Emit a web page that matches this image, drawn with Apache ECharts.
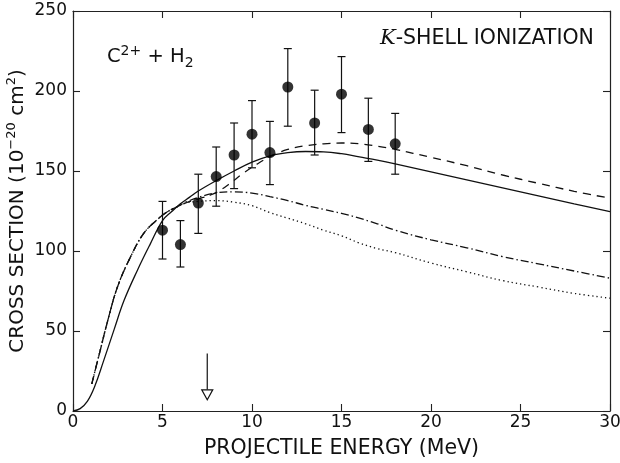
<!DOCTYPE html>
<html><head><meta charset="utf-8">
<script src="https://cdn.jsdelivr.net/npm/echarts@6/dist/echarts.min.js"></script>
<style>html,body{margin:0;padding:0;background:#fff}#c{width:620px;height:463px}</style>
</head><body><div id="c"></div>
<script>
// Measured data points (projectile energy in MeV, cross section in 1e-20 cm^2)
const energy       = [5, 6, 7, 8, 9, 10, 11, 12, 13.5, 15, 16.5, 18];
const crossSection = [113, 104, 130, 146.5, 160, 173, 161.5, 202.5, 180, 198, 176, 167];
const errLow       = [95, 90, 111, 128, 139, 152, 141.5, 178, 160, 174, 156, 148];
const errHigh      = [131, 119, 148, 165, 180, 194, 181, 226.5, 200.5, 221.5, 195.5, 186];

// Theory curves [energy, cross section]
const solidCurve = [[0,0],[0.4,1.5],[0.8,6],[1.2,15],[1.7,31],[2.3,51],[2.85,69],[3.6,88],[4.3,104],[5,119],[5.5,124.5],[6,129.5],[6.5,133.5],[7,137.5],[8,144],[9,150],[10,155.5],[11,159.5],[12,161.5],[13,162.2],[14,162],[15,160.8],[16,158.8],[17,156.8],[18,154.5],[20,149.5],[22,144.5],[24,139.5],[26,134.5],[28,129.5],[30,124.6]];
const dashedCurve = [[1.05,17],[1.5,37],[2,59],[2.5,78],[3.2,96],[3.95,111],[4.7,119.5],[5.2,124],[5.8,127.5],[6.3,130],[7,132.5],[7.8,135.5],[8.3,138.5],[8.8,142.5],[9.5,148.5],[10.1,153],[11,159],[12,163.5],[13,165.8],[14,167],[15,167.5],[16,167],[17,165.5],[18,163.5],[20,158.5],[22,153.3],[24,147.5],[26,142.3],[28,137.3],[30,133]];
const dashDotCurve = [[1.05,17],[1.5,37],[2,59],[2.5,78],[3.2,96],[3.95,111],[4.7,119.5],[5.2,124],[5.8,127.5],[6.3,130.5],[7,133.5],[8,136.3],[9,137],[10,136.2],[11,134],[12,131.5],[13,128.5],[14,126],[15,123.5],[16,120.5],[17,117],[18,113],[20,107],[22,102],[24,96.5],[26,92],[28,87.5],[30,83]];
const dottedCurve = [[1.05,17],[1.5,37],[2,59],[2.5,78],[3.2,96],[3.95,111],[4.7,119.5],[5.2,124],[5.8,127.5],[6.3,130],[7,131],[8,131.5],[9,130.5],[10,128.3],[11,124],[12,120.5],[13,117],[14,113],[15,109.5],[16,105],[17,101.5],[18,99],[20,92.5],[22,87],[24,81.5],[26,77.5],[28,73.5],[30,70.5]];

// Threshold arrow (energy, from value, to value)
const arrowEnergy = [7.5];
const arrowFrom = [36];
const arrowTo = [7];

// Axis ticks
const xTicks = {min: 0, max: 30, interval: 5};
const yTicks = {min: 0, max: 250, interval: 50};

const FONT = 'DejaVu Sans';
const INK = '#111';

const chart = echarts.init(document.getElementById('c'), null, {renderer: 'canvas'});

const baseAxis = {
  axisLine: {show: true, onZero: false, lineStyle: {color: '#222', width: 1.2}},
  axisTick: {show: true, inside: true, length: 7, lineStyle: {color: '#222', width: 1.1}},
  splitLine: {show: false},
};

const errData = energy.map((e, i) => [e, errLow[i], errHigh[i]]);
const ptData = energy.map((e, i) => [e, crossSection[i]]);
const arrowData = arrowEnergy.map((e, i) => [e, arrowFrom[i], arrowTo[i]]);

const lineSeries = (data, type) => ({
  type: 'line', data: data, symbol: 'none', showSymbol: false, smooth: 0.4,
  sampling: null,
  lineStyle: {color: INK, width: 1.3, type: type, cap: 'butt'}, z: 2, silent: true
});

chart.setOption({
  animation: false,
  backgroundColor: '#fff',
  grid: {left: 73, right: 10, top: 11, bottom: 52, containLabel: false, outerBoundsMode: 'none'},
  xAxis: [
    Object.assign({}, baseAxis, {
      type: 'value', position: 'bottom', min: xTicks.min, max: xTicks.max, interval: xTicks.interval,
      axisLabel: {show: true, margin: 3, fontFamily: FONT, fontSize: 17, color: INK},
      name: 'PROJECTILE ENERGY (MeV)', nameLocation: 'middle', nameGap: 27, nameMoveOverlap: false,
      nameTextStyle: {fontFamily: FONT, fontSize: 20.5, color: INK}
    }),
    Object.assign({}, baseAxis, {
      type: 'value', position: 'top', min: xTicks.min, max: xTicks.max, interval: xTicks.interval,
      axisLabel: {show: false}
    })
  ],
  yAxis: [
    Object.assign({}, baseAxis, {
      type: 'value', position: 'left', min: yTicks.min, max: yTicks.max, interval: yTicks.interval,
      axisLabel: {show: true, margin: 6, fontFamily: FONT, fontSize: 17, color: INK},
      name: '{n|CROSS SECTION (10}{sup|\u221220}{n| cm}{sup|2}{n|)}',
      nameLocation: 'middle', nameGap: 42, nameRotate: 90, nameMoveOverlap: false,
      nameTextStyle: {
        fontFamily: FONT, fontSize: 20, color: INK,
        rich: {
          n: {fontFamily: FONT, fontSize: 20, color: INK, lineHeight: 26, verticalAlign: 'middle'},
          sup: {fontFamily: FONT, fontSize: 13, color: INK, lineHeight: 15, verticalAlign: 'top'}
        }
      }
    }),
    Object.assign({}, baseAxis, {
      type: 'value', position: 'right', min: yTicks.min, max: yTicks.max, interval: yTicks.interval,
      axisLabel: {show: false}
    })
  ],
  graphic: [
    {type: 'text', left: 107, top: 44, silent: true,
     style: {text: '{n|C}{sup|2+}{n| + H}{sub|2}', fill: INK,
       rich: {
         n: {fontFamily: FONT, fontSize: 19.5, fill: INK, lineHeight: 26, verticalAlign: 'middle'},
         sup: {fontFamily: FONT, fontSize: 14, fill: INK, lineHeight: 14, verticalAlign: 'top'},
         sub: {fontFamily: FONT, fontSize: 14, fill: INK, lineHeight: 14, verticalAlign: 'bottom'}
       }}},
    {type: 'text', left: 380, top: 28, silent: true,
     style: {text: '{k|K}{n|-SHELL IONIZATION}', fill: INK,
       rich: {
         k: {fontFamily: 'DejaVu Serif', fontStyle: 'italic', fontSize: 21, fill: INK, lineHeight: 26},
         n: {fontFamily: FONT, fontSize: 20.5, fill: INK, lineHeight: 26}
       }}}
  ],
  series: [
    lineSeries(solidCurve, 'solid'),
    lineSeries(dashedCurve, [8, 6]),
    lineSeries(dashDotCurve, [8, 3, 1.5, 3]),
    lineSeries(dottedCurve, [1.3, 3]),
    {
      type: 'custom', data: errData, z: 3, silent: true,
      renderItem: function (params, api) {
        const x = api.value(0);
        const top = api.coord([x, api.value(2)]);
        const bot = api.coord([x, api.value(1)]);
        const w = 4;
        const st = {stroke: INK, lineWidth: 1.2};
        return {type: 'group', children: [
          {type: 'line', shape: {x1: top[0], y1: top[1], x2: bot[0], y2: bot[1]}, style: st},
          {type: 'line', shape: {x1: top[0] - w, y1: top[1], x2: top[0] + w, y2: top[1]}, style: st},
          {type: 'line', shape: {x1: bot[0] - w, y1: bot[1], x2: bot[0] + w, y2: bot[1]}, style: st}
        ]};
      }
    },
    {
      type: 'scatter', data: ptData, symbol: 'circle', symbolSize: 11, z: 4, silent: true,
      itemStyle: {color: '#000'}
    },
    {
      type: 'custom', data: arrowData, z: 3, silent: true,
      renderItem: function (params, api) {
        const x = api.value(0);
        const a = api.coord([x, api.value(1)]);
        const tip = api.coord([x, api.value(2)]);
        const h = 10, hw = 5.5;
        const st = {stroke: INK, lineWidth: 1.2, fill: '#fff'};
        return {type: 'group', children: [
          {type: 'line', shape: {x1: a[0], y1: a[1], x2: tip[0], y2: tip[1] - h}, style: {stroke: INK, lineWidth: 1.2}},
          {type: 'polygon', shape: {points: [[tip[0] - hw, tip[1] - h], [tip[0] + hw, tip[1] - h], [tip[0], tip[1]]]}, style: st}
        ]};
      }
    }
  ]
});
</script>
</body></html>
